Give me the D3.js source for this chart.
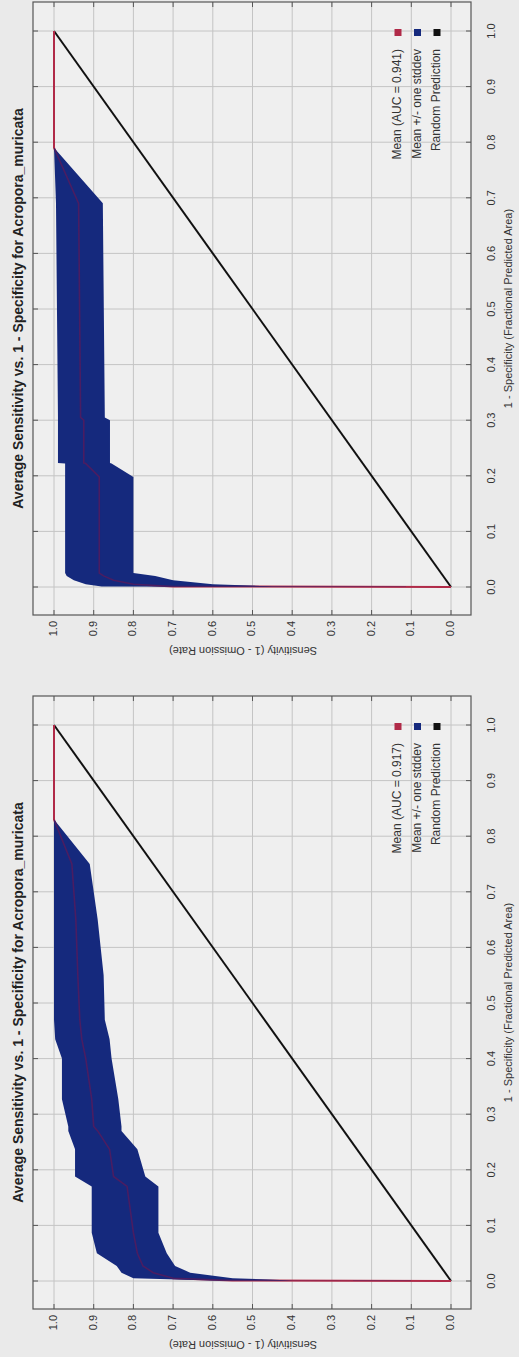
<!DOCTYPE html>
<html>
<head>
<meta charset="utf-8">
<script src="https://cdn.jsdelivr.net/npm/d3@7"></script>
<style>
body { margin: 0; background: #eaeaea; }
svg { display: block; font-family: "Liberation Sans", Arial, sans-serif; }
</style>
</head>
<body>
<div id="chart"></div>
<script>
"use strict";

// shared labels / ticks
var tickValues = [0.0, 0.1, 0.2, 0.3, 0.4, 0.5, 0.6, 0.7, 0.8, 0.9, 1.0];
var titleText = "Average Sensitivity vs. 1 - Specificity for Acropora_muricata";
var xLabelText = "1 - Specificity (Fractional Predicted Area)";
var yLabelText = "Sensitivity (1 - Omission Rate)";
var seriesNames = ["Mean", "Mean +/- one stddev", "Random Prediction"];
var randomLine = [[0, 0], [1, 1]];

// top panel (AUC 0.941)
var aucTop = 0.941;
var fprTop  = [0, 0.001, 0.005, 0.012, 0.020, 0.025, 0.198, 0.222, 0.223, 0.300, 0.305, 0.690, 0.790, 1.0];
var lowTop  = [0, 0.45, 0.60, 0.70, 0.745, 0.80, 0.80, 0.855, 0.859, 0.859, 0.872, 0.877, 1.0, 1.0];
var meanTop = [0, 0.70, 0.80, 0.85, 0.875, 0.886, 0.886, 0.92, 0.925, 0.925, 0.933, 0.938, 1.0, 1.0];
var highTop = [0, 0.88, 0.92, 0.95, 0.968, 0.972, 0.972, 0.972, 0.99, 0.99, 0.99, 0.995, 1.0, 1.0];

// bottom panel (AUC 0.917)
var aucBottom = 0.917;
var fprBottom  = [0, 0.001, 0.005, 0.015, 0.027, 0.050, 0.087, 0.170, 0.188, 0.237, 0.270, 0.278, 0.327, 0.400, 0.435, 0.470, 0.550, 0.650, 0.750, 0.830, 1.0];
var lowBottom  = [0, 0.40, 0.55, 0.657, 0.695, 0.716, 0.737, 0.737, 0.77, 0.79, 0.83, 0.83, 0.838, 0.855, 0.86, 0.872, 0.875, 0.89, 0.91, 1.0, 1.0];
var meanBottom = [0, 0.55, 0.70, 0.75, 0.776, 0.79, 0.80, 0.816, 0.85, 0.86, 0.89, 0.90, 0.905, 0.92, 0.93, 0.935, 0.94, 0.945, 0.955, 1.0, 1.0];
var highBottom = [0, 0.60, 0.80, 0.83, 0.842, 0.892, 0.905, 0.905, 0.947, 0.947, 0.964, 0.964, 0.98, 0.98, 0.997, 1.0, 1.0, 1.0, 1.0, 1.0, 1.0];

var W = 519, H = 1357;
var colors = { mean: "#b02a48", meanInBand: "#4a1d62", band: "#15297d", random: "#111111" };

var svg = d3.select("#chart").append("svg")
    .attr("width", W)
    .attr("height", H);

// plot frame in the un-rotated chart coordinates
var frame = { x0: 0, x1: 613, y0: 33, y1: 471 };

function drawPanel(idx, base, fpr, low, mean, high, auc) {
    var x = d3.scaleLinear().domain([0, 1]).range([28, 584]);
    var y = d3.scaleLinear().domain([0, 1]).range([451, 54]);

    // chart is drawn normally, then turned 90 degrees counter-clockwise
    var g = svg.append("g")
        .attr("transform", "translate(0," + base + ") rotate(-90)");

    g.append("rect")
        .attr("x", frame.x0).attr("y", frame.y0)
        .attr("width", frame.x1 - frame.x0).attr("height", frame.y1 - frame.y0)
        .attr("fill", "#efefef");

    var clipId = "clip" + idx;
    g.append("clipPath").attr("id", clipId)
        .append("rect")
        .attr("x", frame.x0).attr("y", frame.y0)
        .attr("width", frame.x1 - frame.x0).attr("height", frame.y1 - frame.y0);

    // grid
    g.append("g").selectAll("line").data(tickValues).join("line")
        .attr("x1", d => x(d)).attr("x2", d => x(d))
        .attr("y1", frame.y0).attr("y2", frame.y1)
        .attr("stroke", "#c4c4c4").attr("stroke-width", 1);
    g.append("g").selectAll("line").data(tickValues).join("line")
        .attr("y1", d => y(d)).attr("y2", d => y(d))
        .attr("x1", frame.x0).attr("x2", frame.x1)
        .attr("stroke", "#c4c4c4").attr("stroke-width", 1);

    var rows = fpr.map(function (f, i) {
        return { f: f, lo: low[i], m: mean[i], hi: high[i] };
    });

    var area = d3.area()
        .x(d => x(d.f))
        .y0(d => y(d.lo))
        .y1(d => y(d.hi));
    var meanLine = d3.line().x(d => x(d.f)).y(d => y(d.m));

    var plot = g.append("g").attr("clip-path", "url(#" + clipId + ")");

    plot.append("path")
        .datum(randomLine)
        .attr("fill", "none")
        .attr("stroke", colors.random)
        .attr("stroke-width", 2)
        .attr("d", d3.line().x(d => x(d[0])).y(d => y(d[1])));

    plot.append("path")
        .datum(rows)
        .attr("fill", "none")
        .attr("stroke", colors.mean)
        .attr("stroke-width", 2)
        .attr("d", meanLine);

    plot.append("path")
        .datum(rows)
        .attr("fill", colors.band)
        .attr("d", area);

    // inside the band the mean shows only as a dark purple trace
    var bandClip = "band" + idx;
    g.append("clipPath").attr("id", bandClip)
        .append("path").datum(rows).attr("d", area);
    g.append("path")
        .datum(rows)
        .attr("clip-path", "url(#" + bandClip + ")")
        .attr("fill", "none")
        .attr("stroke", colors.meanInBand)
        .attr("stroke-width", 1.6)
        .attr("d", meanLine);

    // frame + inward ticks
    g.append("rect")
        .attr("x", frame.x0).attr("y", frame.y0)
        .attr("width", frame.x1 - frame.x0).attr("height", frame.y1 - frame.y0)
        .attr("fill", "none").attr("stroke", "#555").attr("stroke-width", 1.2);

    var ticks = g.append("g").attr("stroke", "#555").attr("stroke-width", 1);
    tickValues.forEach(function (t) {
        ticks.append("line").attr("x1", x(t)).attr("x2", x(t)).attr("y1", frame.y1).attr("y2", frame.y1 - 5);
        ticks.append("line").attr("x1", x(t)).attr("x2", x(t)).attr("y1", frame.y0).attr("y2", frame.y0 + 5);
        ticks.append("line").attr("y1", y(t)).attr("y2", y(t)).attr("x1", frame.x0).attr("x2", frame.x0 + 5);
        ticks.append("line").attr("y1", y(t)).attr("y2", y(t)).attr("x1", frame.x1).attr("x2", frame.x1 - 5);
    });

    // tick labels
    g.append("g").selectAll("text").data(tickValues).join("text")
        .attr("x", d => x(d)).attr("y", 492)
        .attr("text-anchor", "middle").attr("dominant-baseline", "middle")
        .attr("font-size", 11).attr("fill", "#333")
        .text(d => d3.format(".1f")(d));
    g.append("g").selectAll("text").data(tickValues).join("text")
        .attr("x", -6).attr("y", d => y(d))
        .attr("text-anchor", "end").attr("dominant-baseline", "middle")
        .attr("font-size", 11).attr("fill", "#333")
        .text(d => d3.format(".1f")(d));

    // axis labels
    g.append("text")
        .attr("x", (frame.x0 + frame.x1) / 2).attr("y", 509)
        .attr("text-anchor", "middle").attr("dominant-baseline", "middle")
        .attr("font-size", 11).attr("fill", "#333")
        .text(xLabelText);
    g.append("text")
        .attr("transform", "translate(-35," + 243 + ") rotate(-90)")
        .attr("text-anchor", "middle").attr("dominant-baseline", "middle")
        .attr("font-size", 11).attr("fill", "#333")
        .text(yLabelText);

    // title
    g.append("text")
        .attr("x", (frame.x0 + frame.x1) / 2).attr("y", 19)
        .attr("text-anchor", "middle").attr("dominant-baseline", "middle")
        .attr("font-size", 14).attr("font-weight", "bold").attr("fill", "#222")
        .text(titleText);

    // legend
    var legendItems = [
        { name: seriesNames[0] + " (AUC = " + d3.format(".3f")(auc) + ")", color: colors.mean },
        { name: seriesNames[1], color: colors.band },
        { name: seriesNames[2], color: colors.random }
    ];
    var leg = g.append("g").selectAll("g").data(legendItems).join("g")
        .attr("transform", (d, i) => "translate(0," + (398 + i * 19.5) + ")");
    leg.append("rect")
        .attr("x", 579).attr("y", -3.5).attr("width", 7).attr("height", 7)
        .attr("fill", d => d.color);
    leg.append("text")
        .attr("x", 566).attr("y", 0)
        .attr("text-anchor", "end").attr("dominant-baseline", "middle")
        .attr("font-size", 12).attr("fill", "#333")
        .text(d => d.name);
}

drawPanel(0, 615, fprTop, lowTop, meanTop, highTop, aucTop);
drawPanel(1, 1309, fprBottom, lowBottom, meanBottom, highBottom, aucBottom);
</script>
</body>
</html>
